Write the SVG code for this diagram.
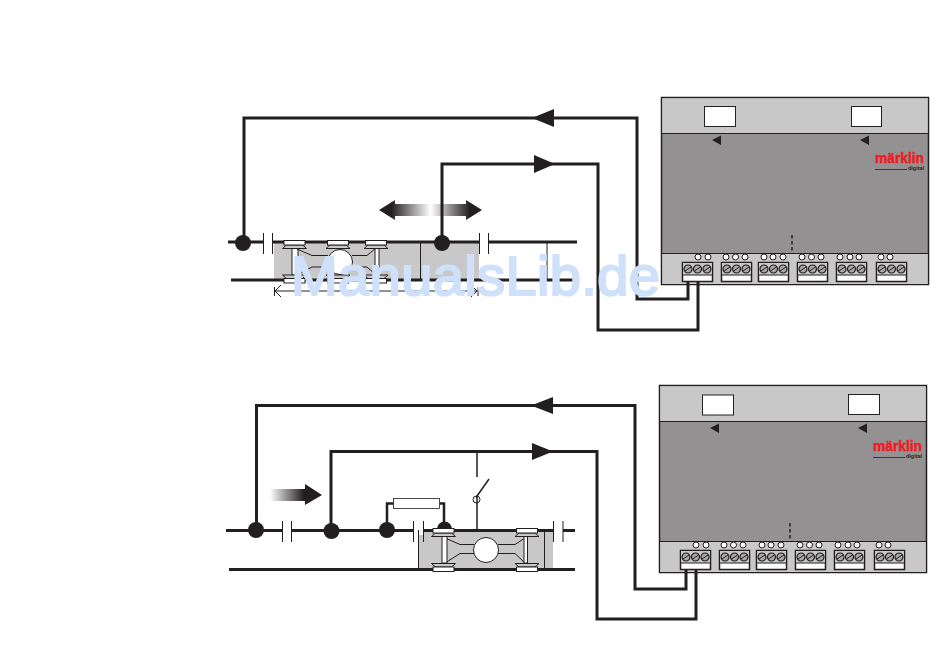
<svg xmlns="http://www.w3.org/2000/svg" xmlns:xlink="http://www.w3.org/1999/xlink" width="950" height="657" viewBox="0 0 950 657">
<style>
.wire{fill:none;stroke:#231f20;stroke-width:3}
.track{fill:none;stroke:#231f20;stroke-width:3}
.thin{fill:none;stroke:#231f20;stroke-width:1}
.mid{fill:none;stroke:#231f20;stroke-width:1.500}
.res{fill:none;stroke:#231f20;stroke-width:2.500}
.dk{fill:#231f20}
.wh{fill:#fff;stroke:#231f20;stroke-width:1}
.gap{fill:#fff}
.logo{font-family:"Liberation Sans",Arial,sans-serif;font-weight:700;font-size:15px;fill:#ed1c24;stroke:#ed1c24;stroke-width:.5}
.dig{font-family:"Liberation Sans",Arial,sans-serif;font-weight:700;font-size:6px;fill:#231f20}
.wm{font-family:"Liberation Sans",Arial,sans-serif;font-size:56px;fill:#cfe1fa;stroke:#cfe1fa;stroke-width:2.200}
</style>
<defs>
<linearGradient id="dbl" x1="0" x2="1" y1="0" y2="0"><stop offset="0" stop-color="#231f20"/><stop offset=".12" stop-color="#231f20"/><stop offset=".5" stop-color="#fff"/><stop offset=".88" stop-color="#231f20"/><stop offset="1" stop-color="#231f20"/></linearGradient>
<linearGradient id="fade" x1="0" x2="1" y1="0" y2="0"><stop offset="0" stop-color="#fff"/><stop offset=".65" stop-color="#231f20"/></linearGradient>
<g id="screw"><circle r="4" fill="#a8a8a8" stroke="#231f20" stroke-width="1.200"/><path d="M-3 2L3 -2" stroke="#231f20" stroke-width="1"/></g>
<g id="led"><circle r="3" fill="#fff" stroke="#231f20" stroke-width="1"/></g>
<g id="term"><rect x="0.500" y="0.500" width="30" height="19" fill="#fff" stroke="#231f20" stroke-width="1.500"/><rect x="1" y="1" width="29" height="12" fill="#c8c8c8"/><path d="M1 13H30" stroke="#231f20" stroke-width="1"/><use xlink:href="#screw" x="6" y="7"/><use xlink:href="#screw" x="15.500" y="7"/><use xlink:href="#screw" x="25" y="7"/></g>
<g id="wheelT"><path d="M-8 4.500L-12 8H12L8 4.500Z" fill="#c8c8c8" stroke="#231f20" stroke-width="1"/><rect x="-10.500" y="0" width="21" height="4.500" fill="#fff" stroke="#231f20" stroke-width="1"/></g>
<g id="wheelB"><path d="M-12 0L-8 3.500H8L12 0Z" fill="#c8c8c8" stroke="#231f20" stroke-width="1"/><rect x="-10.500" y="3.500" width="21" height="4.500" fill="#fff" stroke="#231f20" stroke-width="1"/></g>
<g id="device">
<rect x="0.500" y="0.500" width="267" height="187" fill="#939192" stroke="#231f20" stroke-width="1.500"/>
<rect x="1.200" y="1.200" width="265.600" height="35" fill="#c8c8c8"/>
<rect x="1.200" y="156.500" width="265.600" height="30.500" fill="#c8c8c8"/>
<path d="M0.500 36.500H267.500M0.500 156.500H267.500" stroke="#231f20" stroke-width="1"/>
<path d="M131 138V156.500" stroke="#231f20" stroke-width="1.500" stroke-dasharray="3.500 2.500"/>
<g fill="none"><use xlink:href="#led" x="37" y="160"/><use xlink:href="#led" x="47" y="160"/>
<use xlink:href="#led" x="65" y="160"/><use xlink:href="#led" x="74.500" y="160"/><use xlink:href="#led" x="84" y="160"/>
<use xlink:href="#led" x="103" y="160"/><use xlink:href="#led" x="112" y="160"/><use xlink:href="#led" x="122" y="160"/>
<use xlink:href="#led" x="141" y="160"/><use xlink:href="#led" x="150.500" y="160"/><use xlink:href="#led" x="160" y="160"/>
<use xlink:href="#led" x="179" y="160"/><use xlink:href="#led" x="189" y="160"/><use xlink:href="#led" x="198" y="160"/>
<use xlink:href="#led" x="220" y="160"/><use xlink:href="#led" x="229" y="160"/></g>
<use xlink:href="#term" x="21" y="165"/><use xlink:href="#term" x="60" y="165"/><use xlink:href="#term" x="97" y="165"/><use xlink:href="#term" x="136" y="165"/><use xlink:href="#term" x="175" y="165"/><use xlink:href="#term" x="215" y="165"/>
<path d="M60 38.500L51 43L60 48ZM208 38.500L199 43L208 48Z" class="dk"/>
<text class="logo" x="214" y="66" textLength="49" lengthAdjust="spacingAndGlyphs">märklin</text>
<path d="M214 72.500H246" stroke="#231f20" stroke-width="0.800"/>
<text class="dig" x="247" y="73" textLength="16" lengthAdjust="spacingAndGlyphs">digital</text>
</g>
</defs>

<g id="device-1"><use xlink:href="#device" x="661" y="97"/><rect x="704.500" y="106.500" width="31" height="20" class="wh"/><rect x="851.500" y="106.500" width="30" height="20" class="wh"/></g>
<g id="device-2"><use xlink:href="#device" x="659" y="385"/><rect x="702.500" y="395" width="31" height="20" class="wh"/><rect x="848.500" y="394.500" width="31" height="20" class="wh"/></g>

<g id="track-1">
<rect x="274" y="242" width="205" height="38" fill="#c8c8c8"/>
<path class="track" d="M228 242H577M231 280H574"/>
<rect class="gap" x="264" y="238" width="8" height="8"/><rect class="gap" x="480" y="238" width="8" height="8"/>
<path class="thin" d="M263.500 233V254M272.500 233V254M479.500 233V254M488.500 233V254M420.500 242V280M547 242V280"/>
<path class="thin" d="M274 291H477M274.500 287V296M478 287V296M281 285L275 291L281 297M471 285L477 291L471 297"/>
</g>
<g id="loco-1">
<rect x="292" y="248" width="6" height="27" fill="#fff" stroke="#231f20" stroke-width="1"/>
<rect x="375" y="248" width="4" height="27" fill="#fff" stroke="#231f20" stroke-width="1"/>
<path class="thin" d="M297 249L312 255.500H328M297 275L312 267H328M352 255.500H367L376 248M352 267H367L376 275"/>
<circle cx="340" cy="262" r="12.500" fill="#fff" stroke="#231f20" stroke-width="1"/>
<use xlink:href="#wheelT" x="294.500" y="240.500"/><use xlink:href="#wheelT" x="338" y="240.500"/><use xlink:href="#wheelT" x="376" y="240.500"/>
<use xlink:href="#wheelB" x="294.500" y="275"/><use xlink:href="#wheelB" x="338" y="275"/><use xlink:href="#wheelB" x="376" y="275"/>
</g>

<g id="track-2">
<rect x="418" y="530" width="135" height="39" fill="#c8c8c8"/>
<path class="track" d="M226 530.500H575M229 569.500H575"/>
<rect class="gap" x="283" y="526" width="9" height="9"/><rect class="gap" x="414" y="526" width="10" height="9"/><rect class="gap" x="554" y="526" width="9" height="9"/>
<path class="thin" d="M282.500 521V542M291.500 521V542M413.500 521V542M423.500 521V542M553.500 521V542M563 521V542M418.500 530V569M544.500 530V569"/>
</g>
<g id="arrow-both"><path d="M379 210L395 200V204H466V200L482 210L466 220V216H395V220Z" fill="url(#dbl)"/></g>
<g id="arrow-right"><path d="M270 489H305V484L322 495L305 505V501H270Z" fill="url(#fade)"/></g>

<g id="connectors">
<path class="wire" d="M244 243V118H637V299H688V281"/>
<path class="wire" d="M442 243V164H598V330H698V281"/>
<path class="wire" d="M256.500 530V405.500H635V589H686V569"/>
<path class="wire" d="M331 530V451.500H597V619H696V569"/>
<path class="res" d="M387 530V503.500H394M440 503.500H444V525"/>
<path class="mid" d="M477 451V477M477 497V530M476 497.500L489 479"/>
<path class="dk" d="M532 118L554 109V127ZM555 164L534 155V173ZM531 405.500L553 397V414ZM553 451.500L532 443V460Z"/>
<circle class="dk" cx="243" cy="243" r="8"/><circle class="dk" cx="442" cy="243" r="8"/>
<circle class="dk" cx="256" cy="530" r="8"/><circle class="dk" cx="331.500" cy="531" r="8"/><circle class="dk" cx="387" cy="530" r="8"/>
<path class="dk" d="M437 529A7.500 7.500 0 0 1 452 529Z"/>
</g>

<g id="loco-2">
<path class="thin" d="M445 538L460 544.500H474M445 563L460 553.500H474M498 544.500H515L525 538M498 553.500H515L525 563"/>
<rect x="442" y="536" width="5" height="27" fill="#fff" stroke="#231f20" stroke-width="1"/>
<rect x="524" y="536" width="3.500" height="27" fill="#fff" stroke="#231f20" stroke-width="1"/>
<circle cx="486" cy="550" r="12.500" fill="#fff" stroke="#231f20" stroke-width="1"/>
<use xlink:href="#wheelT" x="443.500" y="528.500"/><use xlink:href="#wheelT" x="527" y="528.500"/>
<use xlink:href="#wheelB" x="443.500" y="563.500"/><use xlink:href="#wheelB" x="527" y="563.500"/>
</g>

<g id="resistor"><rect x="393.500" y="498.500" width="46" height="10" fill="#fff" stroke="#231f20" stroke-width="0.800"/></g>
<g id="switch"><circle cx="476.500" cy="499.500" r="3.500" fill="none" stroke="#231f20" stroke-width="1"/></g>
<g id="watermark"><text class="wm" x="291" y="295" textLength="369">ManualsLib.de</text></g>
</svg>
